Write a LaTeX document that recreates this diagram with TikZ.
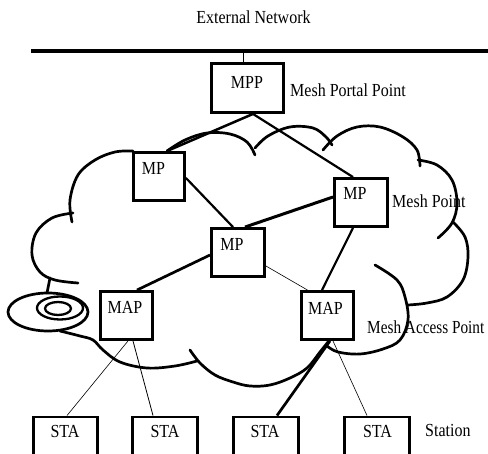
\documentclass[tikz,border=0pt]{standalone}
\usepackage{fontspec}
\setmainfont{Liberation Serif}
\usepackage{graphicx}
\usetikzlibrary{calc}
\newcommand{\tx}[1]{\scalebox{1}[1.15]{#1}}
\begin{document}
\begin{tikzpicture}[x=1pt,y=-1pt,
  box/.style={draw, line width=2.9pt, fill=white, inner sep=0pt, minimum height=48pt, minimum width=53pt},
  stabox/.style={box, minimum width=64.5pt, minimum height=52pt},
  lbl/.style={inner sep=0pt, font=\fontsize{16}{19}\selectfont},
  cloudline/.style={line width=2.7pt, line cap=round, line join=round},
  thickc/.style={line width=2.5pt},
  thinc/.style={line width=0.6pt}
]
\clip (0,0) rectangle (488,454);
\fill[white] (0,0) rectangle (488,454);

% cloud outline
\draw[cloudline] plot[smooth, tension=0.6] coordinates {(72,222) (70,200) (78,175) (95,160) (115,152) (133,151)};
\draw[cloudline] plot[smooth, tension=0.6] coordinates {(167,151) (185,140) (207,133) (230,134) (247,142) (255,155)};
\draw[cloudline] plot[smooth, tension=0.6] coordinates {(255,148) (268,136) (290,127) (313,128) (326,137) (332,145)};
\draw[cloudline] plot[smooth, tension=0.6] coordinates {(323,150) (337,136) (357,127) (380,127) (403,137) (417,150) (420,166)};
\draw[cloudline] plot[smooth, tension=0.6] coordinates {(418,160) (437,165) (452,180) (457,203) (452,223) (438,238)};
\draw[cloudline] plot[smooth, tension=0.6] coordinates {(453,222) (465,237) (468,257) (463,280) (447,297) (427,303) (408,305)};
\draw[cloudline] plot[smooth, tension=0.6] coordinates {(375,265) (397,280) (405,297) (408,320) (400,340) (383,349) (360,354) (338,352) (327,346)};
\draw[cloudline] plot[smooth, tension=0.6] coordinates {(190,350) (200,363) (215,375) (233,382) (250,386) (270,385) (290,378) (307,368) (320,352) (328,342)};
\draw[cloudline] plot[smooth, tension=0.6] coordinates {(60,331) (80,336) (93,340) (103,350) (120,362) (147,368) (175,366) (197,361)};
\draw[cloudline] plot[smooth, tension=0.6] coordinates {(73,213) (52,218) (36,233) (32,255) (40,272) (55,280) (78,283)};
\draw[cloudline] (50,278) -- (47,293);
\draw[cloudline] (48,312) ellipse [x radius=40pt, y radius=19pt];
\draw[line width=2.3pt] (60,308) ellipse [x radius=23pt, y radius=11.5pt];
\draw[line width=2.3pt] (58,308.5) ellipse [x radius=13pt, y radius=6.5pt];

% external network bus
\coordinate (busL) at (31,51);
\coordinate (busR) at (492,51);
\draw[line width=3.3pt] (busL) -- (busR);
\node[lbl] (ext) at (253.5,17) {\tx{External Network}};

% boxes
\node[box, minimum width=72pt, minimum height=49pt] (mpp) at (247.5,88) {};
\node[box, minimum width=51pt] (mp1) at (159,176.5) {};
\node[box, minimum width=53pt] (mpr) at (361,202.5) {};
\node[box, minimum width=53pt] (mpc) at (238,252.5) {};
\node[box, minimum width=52pt] (mapl) at (126.5,315.5) {};
\node[box, minimum width=52pt] (mapr) at (327.5,315.5) {};
\node[stabox] (sta1) at (65.5,443) {};
\node[stabox] (sta2) at (165,443) {};
\node[stabox] (sta3) at (266,443) {};
\node[stabox] (sta4) at (377,443) {};

\coordinate (tap) at (243,51);
\draw[line width=0.9pt] (tap) -- ($(mpp.north)+(-4.5,0)$);

% connectors
\draw[thickc] ($(mpp.south)+(5.5,0)$) -- ($(mp1.north)+(8,0)$);
\draw[line width=2.2pt] ($(mpp.south)+(5.5,0)$) -- ($(mpr.north)+(-8,0)$);
\draw[line width=2.2pt] ($(mp1.east)+(0,1.5)$) -- ($(mpc.north)+(-5,0)$);
\draw[line width=3pt] ($(mpr.west)+(0,-5.5)$) -- ($(mpc.north)+(7,0)$);
\draw[line width=2.7pt] ($(mpc.west)+(0,2.5)$) -- ($(mapl.north)+(10.5,0)$);
\draw[thinc] ($(mpc.east)+(0,13.5)$) -- ($(mapr.north)+(-20,0)$);
\draw[line width=2.2pt] ($(mpr.south)+(-8,0)$) -- ($(mapr.north)+(-5.5,0)$);
\draw[thinc] ($(mapl.south)+(1.5,0)$) -- ($(sta1.north)+(1.5,0)$);
\draw[line width=0.8pt] ($(mapl.south)+(6.5,0)$) -- ($(sta2.north)+(-12,0)$);
\draw[line width=2.7pt] ($(mapr.south)+(2.5,0)$) -- ($(sta3.north)+(11,0)$);
\draw[thinc] ($(mapr.south)+(5.5,0)$) -- ($(sta4.north)+(-10,0)$);

% labels
\node[lbl] (tmpp) at (247,82) {\tx{MPP}};
\node[lbl, anchor=west] (tportal) at (290,90) {\tx{Mesh Portal Point}};
\node[lbl] (tmp1) at (153.5,168.5) {\tx{MP}};
\node[lbl] (tmpr) at (355,193.5) {\tx{MP}};
\node[lbl, anchor=west] (tpoint) at (392,201.5) {\tx{Mesh Point}};
\node[lbl] (tmpc) at (232,244) {\tx{MP}};
\node[lbl] (tmapl) at (125,307.5) {\tx{MAP}};
\node[lbl] (tmapr) at (325.5,308.5) {\tx{MAP}};
\node[lbl, anchor=west] (taccess) at (367,327.5) {\scalebox{0.955}[1.15]{Mesh Access Point}};
\node[lbl] (tsta1) at (65,431.5) {\tx{STA}};
\node[lbl] (tsta2) at (165,431.5) {\tx{STA}};
\node[lbl] (tsta3) at (265,431.5) {\tx{STA}};
\node[lbl] (tsta4) at (377.5,431.5) {\tx{STA}};
\node[lbl, anchor=west] (tstation) at (425,430) {\tx{Station}};
\end{tikzpicture}
\end{document}
